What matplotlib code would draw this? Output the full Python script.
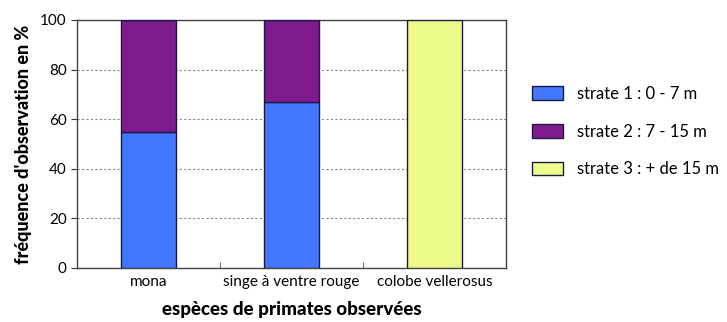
import matplotlib.pyplot as plt
import numpy as np

plt.rcParams['font.family'] = ['Lato', 'DejaVu Sans']

especes = ['mona', 'singe à ventre rouge', 'colobe vellerosus']
strate1 = [55, 67, 0]
strate2 = [45, 33, 0]
strate3 = [0, 0, 100]
noms = ['strate 1 : 0 - 7 m', 'strate 2 : 7 - 15 m', 'strate 3 : + de 15 m']
couleurs = ['#4477ff', '#7f1a8f', '#eefa8a']

fig = plt.figure(figsize=(7.27, 3.22), dpi=100)
ax = fig.add_axes([0.106, 0.168, 0.590, 0.770])

x = np.arange(len(especes))
w = 0.39
bas = np.zeros(len(especes))
for vals, nom, c in zip([strate1, strate2, strate3], noms, couleurs):
    vals = np.array(vals)
    ax.bar(x, vals, w, bottom=bas, color=c, edgecolor='#1a1a40', linewidth=1.0,
           label=nom, zorder=3)
    bas += vals

ax.set_xlim(-0.5, 2.5)
ax.set_ylim(0, 100)
ax.set_yticks([0, 20, 40, 60, 80, 100])
ax.set_xticks(x)
ax.set_xticklabels(especes, fontsize=11)
ax.set_xticks([0.5, 1.5, 2.5], minor=True)
ax.tick_params(axis='x', which='major', length=0, pad=5)
ax.tick_params(axis='x', which='minor', length=4, direction='in', color='#555555')
ax.tick_params(axis='y', labelsize=11, length=4, direction='out', color='#333333')
ax.yaxis.grid(True, linestyle=(0, (2, 2)), color='#888888', linewidth=0.8, zorder=0)

for s in ax.spines.values():
    s.set_color('#444444')
    s.set_linewidth(1.0)

ax.set_ylabel("fréquence d'observation en %", fontsize=13, fontweight='black', labelpad=6)
ax.set_xlabel('espèces de primates observées', fontsize=13.5, fontweight='black', labelpad=9)

ax.legend(loc='center left', bbox_to_anchor=(1.025, 0.55), frameon=False, fontsize=12,
          handlelength=1.9, handleheight=0.9, labelspacing=1.3, handletextpad=0.8)

fig.savefig('out.png', dpi=100)
